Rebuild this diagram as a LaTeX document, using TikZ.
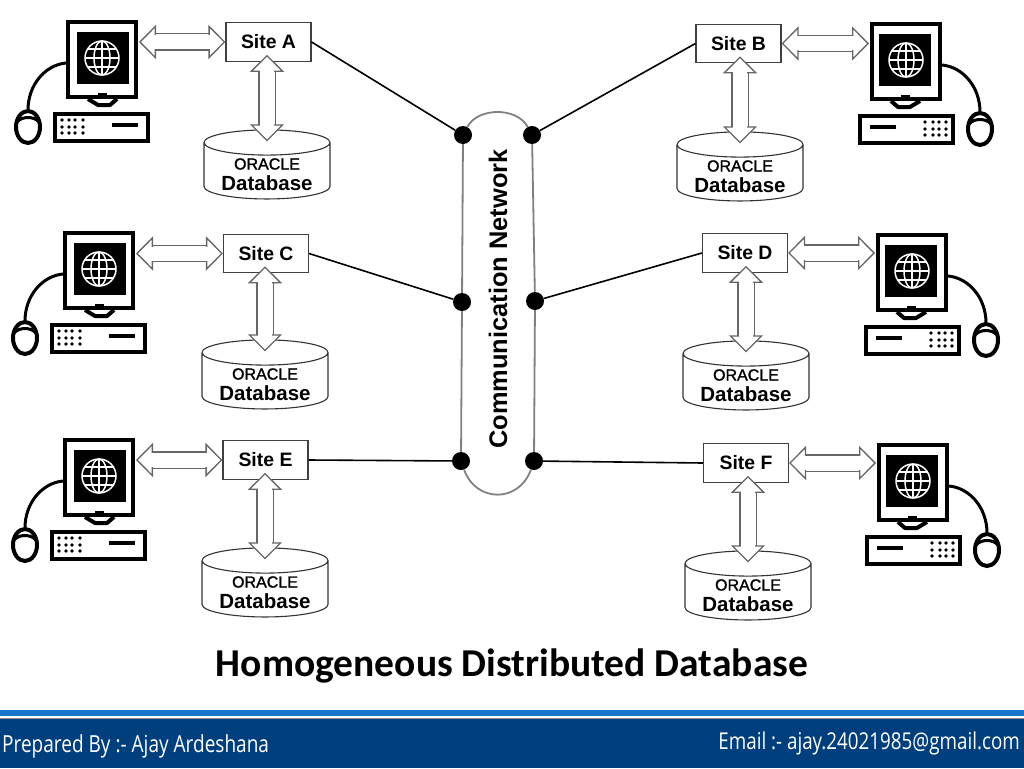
\documentclass[tikz,border=0pt]{standalone}
\usepackage{fontspec}
\setmainfont{Liberation Sans}
\newfontfamily\titlefont{Carlito}
\newfontfamily\footfont[FakeStretch=0.81]{Open Sans}
\newfontfamily\oraclefont[FakeBold=1.5]{Liberation Sans}
\usetikzlibrary{arrows.meta}
\usetikzlibrary{shapes.geometric}
\definecolor{bandblue}{HTML}{003F7D}
\definecolor{lineblue}{HTML}{1A75CF}
\tikzset{
	site/.style={draw=black!75,line width=1.1pt,fill=white,minimum width=85pt,minimum height=38.5pt,inner sep=0pt,font=\bfseries\fontsize{19.4}{20}\selectfont},
	database/.style={cylinder,shape border rotate=90,aspect=0.28,draw=black!80,line width=1.1pt,fill=white,minimum width=126pt,minimum height=66pt,inner sep=0pt,align=center},
	oracletext/.style={inner sep=0pt,font=\oraclefont\fontsize{16}{18}\selectfont},
	dbtext/.style={inner sep=0pt,font=\bfseries\fontsize{20.5}{21}\selectfont},
	dblarrow/.style={draw=black!60,line width=1.3pt,double=white,double distance=15pt,{Triangle[length=17pt,width=34pt,fill=white]}-{Triangle[length=17pt,width=34pt,fill=white]},
		postaction={draw=white,double=none,line width=14pt,-,shorten >=15pt,shorten <=15pt}},
	dot/.style={circle,fill=black,minimum size=18pt,inner sep=0pt},
	netline/.style={draw=black!50,line width=1.8pt},
	link/.style={draw=black,line width=1.6pt},
	computer/.pic={
		% cable and mouse
		\draw[line width=3pt] (0,43) .. controls (-21,45) and (-38,65) .. (-38,90);
		\draw[line width=4pt,fill=white] (-38,107) ellipse (12pt and 16pt);
		\draw[line width=3pt] (-49,102) .. controls (-44,96) and (-32,96) .. (-27,102);
		% monitor
		\draw[line width=4pt,fill=white] (2,2) rectangle (70,77);
		\draw[line width=4pt,fill=white,line join=round] (22,79) -- (32,85) -- (44,85) -- (51,79);
		\fill (11,12) rectangle (63,64);
		\fill (32,73) rectangle (41,77);
		% globe
		\begin{scope}[white,line width=1.5pt]
			\draw (36,38) circle (17pt);
			\draw (36,38) ellipse (8pt and 17pt);
			\draw (36,21) -- (36,55) (19,38) -- (53,38) (22,29) -- (50,29) (22,47) -- (50,47);
		\end{scope}
		% base unit
		\draw[line width=4pt,fill=white] (-11,94) rectangle (82,121);
		\foreach \i in {-4,3,9,17}
			\foreach \j in {100,107,113}
				\fill (\i,\j) circle (1.8pt);
		\draw[line width=4pt] (46,105) -- (72,105);
		\coordinate (-port) at (73,22);
	}
}
\begin{document}
\begin{tikzpicture}[x=1pt,y=-1pt]
	\useasboundingbox (0,0) rectangle (1024,768);

	% footer band
	\fill[lineblue] (0,709.5) rectangle (1024,715.5);
	\fill[black!45] (0,718) rectangle (1024,719);
	\fill[bandblue] (0,719) rectangle (1024,768);
	\node[anchor=base west,inner sep=0pt,text=white] (prepared) at (2,752)
		{\footfont\fontsize{23.5}{23.5}\selectfont Prepared By :- Ajay Ardeshana};
	\node[anchor=base east,inner sep=0pt,text=white] (email) at (1020,749)
		{\footfont\fontsize{23.2}{23.2}\selectfont Email :- ajay.24021985@gmail.com};
	\node[font=\titlefont\bfseries\fontsize{39.5}{39.5}\selectfont] (title) at (512,666) {Homogeneous Distributed Database};

	% network
	\node[dot] (na) at (463,135) {};
	\node[dot] (nb) at (532,135) {};
	\node[dot] (nc) at (462,302) {};
	\node[dot] (nd) at (535,301) {};
	\node[dot] (ne) at (461,461) {};
	\node[dot] (nf) at (534,461) {};
	\draw[netline] (na) -- (nc) -- (ne);
	\draw[netline] (nb) -- (nd) -- (nf);
	\draw[netline] (na) .. controls (478,107) and (517,107) .. (nb);
	\draw[netline] (ne) .. controls (476,503) and (519,503) .. (nf);
	\node[rotate=90,font=\bfseries\fontsize{25.4}{25.4}\selectfont] (network) at (498,299) {Communication Network};

	% one entry per site: name/label/site x/site y/computer/database x/database y
	\foreach \nm/\lbl/\sx/\sy/\cx/\cy/\flip/\dx/\dy in {
		A/Site A/268.5/42/66/20/1/267/171,
		B/Site B/738.5/43.5/942/22/-1/740/173,
		C/Site C/266/253.5/63/231/1/265/381,
		D/Site D/745/253/948/233/-1/746/382,
		E/Site E/265.5/460/63/438/1/265/589,
		F/Site F/746/463/949/443/-1/748/592}
	{
		\node[site] (site\nm) at (\sx,\sy) {\lbl};
		\node[database] (db\nm) at (\dx,\dy) {\fontsize{16}{18}\selectfont\phantom{ORACLE}\\[3pt]\fontsize{21}{21}\selectfont\phantom{Database}};
		\node[oracletext] (ora\nm) at ([yshift=7pt]db\nm.center) {ORACLE};
		\node[dbtext] (lbl\nm) at ([yshift=-12pt]db\nm.center) {Database};
		\pic[xscale=\flip] (pc\nm) at (\cx,\cy) {computer};
		\draw[dblarrow] (pc\nm-port |- site\nm.center) -- (site\nm.center -| site\nm.\ifnum\flip=1 west\else east\fi);
		\draw[dblarrow] ([yshift=7pt]db\nm.north |- site\nm.south) -- ([yshift=-12pt]db\nm.north);
	}

	% site links
	\draw[link] (siteA.east) -- (na);
	\draw[link] (siteB.west) -- (nb);
	\draw[link] (siteC.east) -- (nc);
	\draw[link] (siteD.west) -- (nd);
	\draw[link] (siteE.east) -- (ne);
	\draw[link] (siteF.west) -- (nf);
\end{tikzpicture}
\end{document}
